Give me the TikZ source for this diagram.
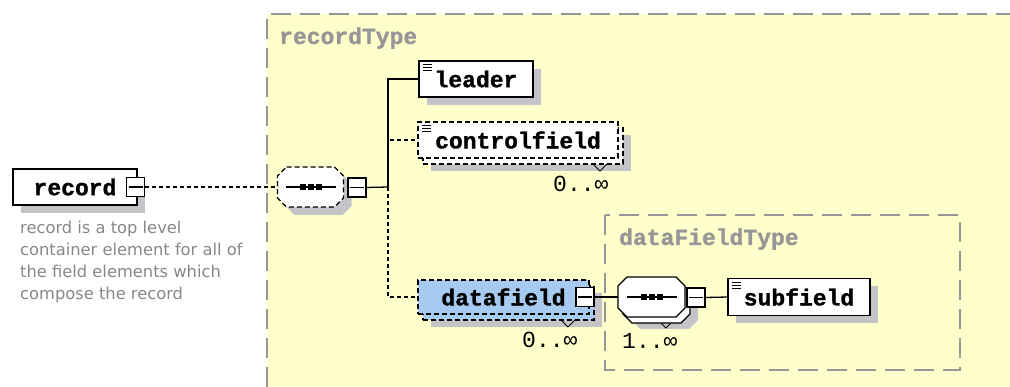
\documentclass[tikz,border=0pt]{standalone}
\usepackage{fontspec}
\usepackage{tikz}
\usetikzlibrary{shadows}
\newfontfamily\elemfont{Liberation Mono}
\newfontfamily\heavyfont{Liberation Mono}[FakeBold=1.2]
\newfontfamily\notefont{DejaVu Sans}
\definecolor{PaleYellow}{RGB}{255,255,204}
\definecolor{ShadeGray}{RGB}{196,196,200}
\definecolor{FrameGray}{RGB}{150,150,150}
\definecolor{NoteGray}{RGB}{135,135,135}
\definecolor{PickBlue}{RGB}{166,202,240}
% chamfered outline round a node, shifted by (dx,dy)
\newcommand\octagon[3]{([shift={(#2+9,#3)}]#1.north west) -- ([shift={(#2-9,#3)}]#1.north east) -- ([shift={(#2,#3+9)}]#1.north east) -- ([shift={(#2,#3-9)}]#1.south east) -- ([shift={(#2-9,#3)}]#1.south east) -- ([shift={(#2+9,#3)}]#1.south west) -- ([shift={(#2,#3-9)}]#1.south west) -- ([shift={(#2,#3+9)}]#1.north west) -- cycle}

\begin{document}
\begin{tikzpicture}[x=1pt,y=-1pt,
	elem/.style={draw, line width=1.3pt, inner sep=0pt, outer sep=0pt,
		font=\fontsize{23}{23}\selectfont\heavyfont\bfseries},
	single/.style={elem, fill=white, general shadow={fill=ShadeGray, shadow xshift=8pt, shadow yshift=-8pt}},
	stacked/.style={elem, general shadow={fill=ShadeGray, shadow xshift=13pt, shadow yshift=-13pt},
		general shadow={draw, line width=1.3pt, shadow xshift=5pt, shadow yshift=-6pt, #1}},
	optel/.style={dash pattern=on 5pt off 3pt},
	seq/.style={inner sep=0pt, outer sep=0pt, minimum width=66pt, minimum height=40pt},
	minus/.style={draw, fill=white, line width=1.3pt, inner sep=0pt, outer sep=0pt,
		minimum width=18pt, minimum height=19pt,
		path picture={\draw[line width=1.2pt] ([xshift=-7pt]path picture bounding box.center) -- ([xshift=7pt]path picture bounding box.center);}},
	link/.style={line width=1.3pt},
	dashline/.style={line width=1.3pt, dash pattern=on 4pt off 3pt},
	frame/.style={FrameGray, line width=2pt, dash pattern=on 20pt off 9pt},
	typename/.style={FrameGray, inner sep=0pt, font=\fontsize{23}{23}\selectfont\heavyfont\bfseries},
	occurs/.style={inner sep=0pt, font=\fontsize{23}{23}\selectfont\elemfont},
	note/.style={NoteGray, inner sep=0pt, align=left, font=\fontsize{16.3}{22}\selectfont\notefont}]

	\useasboundingbox (0,0) rectangle (1010,387);

	% complex type areas
	\fill[PaleYellow] (267,14) rectangle (1010,387);
	\draw[frame] (267,387) -- (267,14) -- (1010,14);
	\node[typename, anchor=base west] (rtype) at (279,44) {recordType};
	\draw[frame] (605,215) rectangle (960,370);
	\node[typename, anchor=base west] (dtype) at (619,245) {dataFieldType};

	% record element
	\node[single, minimum width=124pt, minimum height=36pt] (record) at (75,187) {record\hspace{8pt}};
	\node[minus] (m0) at (135.5,187) {};
	\node[note, anchor=north west] (desc) at (20,221) {record is a top level\\container element for all of\\the field elements which\\compose the record};

	% sequence of recordType
	\node[seq] (seq1) at (310.5,187) {};
	\fill[ShadeGray] \octagon{seq1}{8}{8};
	\draw[link, optel, fill=white] \octagon{seq1}{0}{0};
	\draw[link] ([xshift=-25pt]seq1.center) -- ([xshift=25pt]seq1.center);
	\foreach \d in {-8,0,8}
		\fill ([xshift=\d pt]seq1.center) +(-3,-3) rectangle +(3,3);
	\node[minus] (m1) at (357,187.5) {};
	\coordinate (trunk) at (388,187);

	% children
	\node[single, minimum width=114pt, minimum height=36pt] (leader) at (476,79) {leader};
	\node[stacked={fill=white, optel}, fill=white, optel, minimum width=200pt, minimum height=36pt] (cfield) at (518,140) {controlfield};
	\node[stacked={fill=PickBlue, optel}, fill=PickBlue, optel, minimum width=171pt, minimum height=34pt] (dfield) at (503.5,297) {datafield\hspace{14pt}};
	\node[minus] (m3) at (585,297) {};

	% sequence of dataFieldType
	\node[seq, minimum width=67pt] (seq2) at (651.5,297) {};
	\fill[ShadeGray] \octagon{seq2}{13}{12};
	\draw[link, fill=white] \octagon{seq2}{5}{6};
	\draw[link, fill=white] \octagon{seq2}{0}{0};
	\draw[link] ([xshift=-25pt]seq2.center) -- ([xshift=25pt]seq2.center);
	\foreach \d in {-8,0,8}
		\fill ([xshift=\d pt]seq2.center) +(-3,-3) rectangle +(3,3);
	\node[minus] (m2) at (696,297.5) {};
	\node[single, minimum width=142pt, minimum height=37pt] (subfield) at (799,297) {subfield};

	% simple content marks
	\foreach \n in {leader,cfield,subfield}
		\foreach \k in {4,7,10}
			\draw[line width=1pt] ([shift={(4,\k)}]\n.north west) -- ++(9,0);

	% occurrence marks
	\draw[line width=1pt] ([shift={(-25,6)}]cfield.south east) -- ++(7,7) -- ++(7,-7);
	\draw[line width=1pt] ([shift={(-28,6)}]dfield.south east) -- ++(7,7) -- ++(7,-7);
	\draw[line width=1pt] ([shift={(-24,6)}]seq2.south east) -- ++(5,5) -- ++(5,-5);
	\node[occurs, anchor=base west] (occ1) at (553,192) {0..∞};
	\node[occurs, anchor=base west] (occ2) at (522,348) {0..∞};
	\node[occurs, anchor=base west] (occ3) at (622,349) {1..∞};

	% connectors
	\draw[dashline] (m0.east) -- (seq1.west);
	\draw[link] (m1.east) -- (trunk);
	\draw[link] (trunk) |- (leader.west);
	\draw[dashline] (trunk) |- (cfield.west);
	\draw[dashline] (trunk) |- (dfield.west);
	\draw[link] (m3.east) -- (seq2.west);
	\draw[link] (m2.east) -- (subfield.west);

\end{tikzpicture}
\end{document}
